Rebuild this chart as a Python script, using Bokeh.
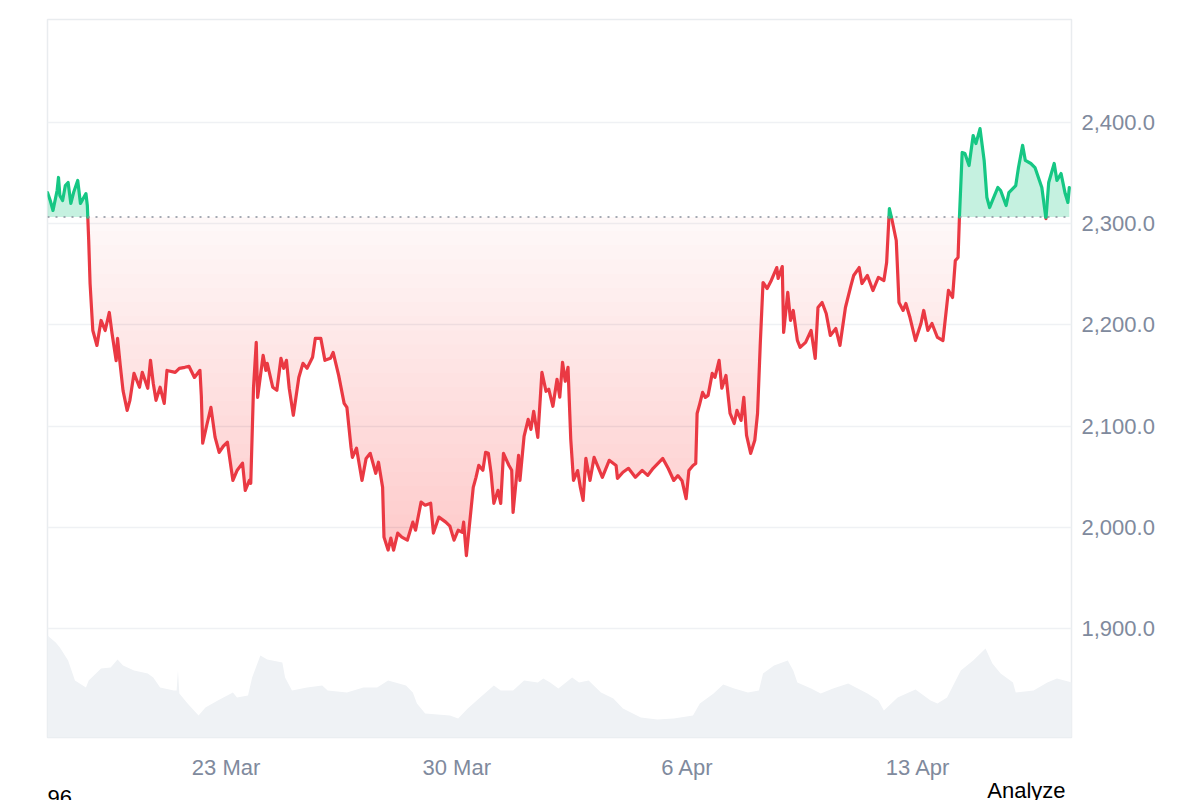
import numpy as np
from datetime import datetime
from bokeh.plotting import figure
from bokeh.layouts import column
from bokeh.models import (Range1d, FixedTicker, NumeralTickFormatter,
                          DatetimeTickFormatter, Span, Label)
from bokeh.embed import file_html
from bokeh.resources import INLINE

# ---------------- data ----------------
START = datetime(2025, 3, 17, 14, 0)          # first sample
END_HOURS = 745.6                             # right edge of the x range, hours after START

price_hours = [0, 2, 4, 7, 8, 9, 11, 13, 15, 17, 19, 22, 24, 26, 28, 29, 30, 31, 33, 36,
               39, 42, 45, 47, 50, 51, 53, 55, 58, 60, 63, 67, 69, 73, 75, 77, 79, 82, 85, 87,
               93, 96, 100, 103, 107, 111, 112, 113, 116, 119, 122, 125, 128, 131, 135, 138, 142, 144, 147, 148,
               150, 152, 153, 157, 159, 160, 164, 167, 170, 172, 174, 176, 179, 183, 186, 189, 193, 195, 199, 202,
               206, 208, 212, 216, 218, 221, 222, 225, 229, 232, 235, 239, 241, 244, 245, 248, 250, 252, 255, 258,
               262, 266, 268, 272, 275, 279, 281, 285, 290, 293, 296, 299, 302, 303, 305, 310, 312, 314, 317, 319,
               321, 323, 325, 328, 330, 332, 336, 338, 339, 343, 344, 347, 350, 352, 354, 357, 360, 363, 365, 368,
               371, 373, 375, 377, 379, 381, 383, 386, 388, 390, 392, 395, 398, 404, 409, 414, 415, 419, 423, 428,
               433, 437, 441, 448, 452, 456, 459, 462, 465, 467, 470, 472, 473, 475, 477, 479, 481, 484, 486, 489,
               491, 494, 497, 500, 502, 505, 507, 509, 512, 515, 517, 519, 521, 524, 527, 531, 532, 535, 536, 539,
               541, 543, 546, 548, 552, 556, 559, 561, 564, 567, 570, 574, 577, 581, 585, 587, 591, 593, 597, 601,
               605, 609, 611, 613, 615, 618, 620, 623, 625, 628, 632, 636, 638, 641, 644, 648, 652, 656, 659, 661,
               663, 664, 666, 668, 671, 674, 676, 679, 682, 684, 686, 688, 692, 694, 698, 700, 705, 707, 710, 712,
               716, 719, 724, 727, 729, 733, 735, 738, 741, 743, 744]

prices = [2330.7, 2322.8, 2313.0, 2332.7, 2345.6, 2327.8, 2322.8, 2337.6, 2340.6, 2319.9,
          2330.7, 2342.6, 2319.9, 2324.8, 2329.7, 2317.9, 2283.4, 2240.8, 2194.4, 2179.6,
          2204.3, 2194.4, 2212.2, 2191.4, 2164.6, 2186.6, 2159.7, 2135.0, 2115.5, 2125.4,
          2152.1, 2138.3, 2153.1, 2137.3, 2165.0, 2142.3, 2125.4, 2138.3, 2122.4, 2154.9,
          2153.0, 2156.9, 2158.0, 2159.0, 2148.0, 2155.0, 2130.0, 2083.0, 2101.0, 2118.4,
          2089.0, 2073.9, 2080.0, 2084.0, 2046.2, 2056.0, 2063.3, 2036.3, 2046.2, 2043.4,
          2138.0, 2182.6, 2128.3, 2169.8, 2155.0, 2161.9, 2138.3, 2135.3, 2166.9, 2157.0,
          2164.9, 2137.3, 2110.6, 2148.0, 2161.9, 2157.0, 2167.9, 2186.6, 2186.6, 2164.9,
          2166.9, 2172.8, 2150.0, 2122.4, 2118.4, 2079.0, 2069.0, 2078.0, 2046.2, 2068.0,
          2073.0, 2053.3, 2064.2, 2039.5, 1990.2, 1977.4, 1989.2, 1977.4, 1994.2, 1990.2,
          1987.2, 2005.0, 1997.1, 2024.8, 2021.7, 2023.7, 1994.2, 2010.0, 2005.0, 2001.0,
          1987.2, 1997.0, 1995.0, 2005.0, 1972.0, 2039.4, 2049.3, 2061.1, 2056.2, 2074.0,
          2073.0, 2053.3, 2023.6, 2036.4, 2023.6, 2073.0, 2061.0, 2056.2, 2014.7, 2071.0,
          2046.2, 2089.8, 2106.6, 2096.7, 2114.5, 2088.8, 2153.0, 2134.3, 2136.3, 2119.5,
          2146.2, 2128.5, 2163.0, 2144.2, 2158.0, 2086.9, 2046.2, 2056.0, 2039.3, 2026.5,
          2068.0, 2046.2, 2069.0, 2049.3, 2066.1, 2061.0, 2048.3, 2054.3, 2058.2, 2049.3,
          2056.2, 2051.2, 2058.2, 2068.0, 2058.0, 2046.2, 2051.0, 2046.0, 2028.3, 2056.0,
          2061.0, 2063.0, 2112.4, 2122.4, 2133.2, 2128.3, 2130.3, 2152.0, 2148.0, 2164.9,
          2137.3, 2150.0, 2112.4, 2102.5, 2115.4, 2105.5, 2128.3, 2090.7, 2073.0, 2085.9,
          2112.4, 2181.6, 2241.8, 2235.9, 2243.8, 2256.6, 2245.8, 2257.6, 2192.5, 2232.0,
          2204.3, 2214.2, 2184.6, 2177.7, 2182.6, 2194.4, 2166.8, 2217.1, 2222.0, 2211.2,
          2189.5, 2196.3, 2179.6, 2217.1, 2238.8, 2248.7, 2256.6, 2240.8, 2248.7, 2233.9,
          2246.8, 2243.8, 2261.6, 2314.9, 2303.1, 2283.3, 2222.0, 2214.2, 2221.1, 2207.2,
          2184.5, 2201.3, 2214.2, 2194.4, 2201.3, 2187.5, 2184.5, 2234.0, 2227.0, 2263.5,
          2266.5, 2306.0, 2370.3, 2369.3, 2357.4, 2387.0, 2379.1, 2393.9, 2362.4, 2325.8,
          2315.9, 2322.8, 2335.7, 2332.7, 2317.9, 2330.7, 2337.6, 2355.4, 2377.3, 2362.4,
          2359.4, 2355.4, 2335.7, 2305.0, 2340.6, 2359.4, 2342.6, 2349.5, 2329.7, 2320.9,
          2335.7]

vol_hours = [0, 6, 9, 15, 20, 28, 30, 39, 46, 51, 55, 63, 73, 77, 82, 92, 94, 95, 96, 102,
             110, 115, 124, 135, 138, 146, 149, 155, 160, 171, 173, 178, 189, 200, 204, 218, 230, 240, 248, 261,
             266, 269, 275, 293, 299, 306, 315, 325, 330, 339, 347, 357, 361, 366, 372, 382, 387, 394, 403, 412,
             419, 432, 444, 456, 470, 475, 485, 492, 500, 510, 518, 521, 529, 539, 543, 546, 556, 563, 572, 583,
             597, 605, 609, 619, 632, 643, 648, 655, 665, 674, 683, 688, 694, 703, 705, 718, 728, 735, 746]
volumes = [10.2, 9.5, 9.0, 7.7, 5.7, 5.0, 5.7, 6.9, 7.0, 7.8, 7.2, 6.7, 6.4, 6.0, 5.0, 4.7, 4.7, 6.7, 4.4, 3.4,
           2.2, 3.0, 3.7, 4.5, 4.0, 4.2, 6.0, 8.2, 7.8, 7.5, 6.0, 4.7, 5.0, 5.2, 4.7, 4.5, 5.0, 5.0, 5.7, 5.2,
           4.5, 3.4, 2.4, 2.2, 1.9, 2.9, 4.0, 5.2, 4.7, 4.7, 5.7, 5.5, 5.9, 5.5, 4.9, 6.0, 5.5, 5.7, 4.5, 3.9,
           2.9, 2.0, 1.8, 1.9, 2.2, 3.4, 4.4, 5.3, 4.9, 4.5, 4.7, 6.4, 7.2, 7.7, 6.7, 5.5, 4.9, 4.4, 4.9, 5.4,
           4.4, 3.7, 2.7, 4.0, 4.8, 3.7, 3.4, 4.0, 6.7, 7.7, 8.9, 7.4, 6.4, 5.5, 4.5, 4.7, 5.5, 5.9, 5.5]

baseline = 2306.5                      # reference (opening) price, dotted line
y_ticks = [1900, 2000, 2100, 2200, 2300, 2400]
tick_dates = [datetime(2025, 3, 23), datetime(2025, 3, 30), datetime(2025, 4, 6), datetime(2025, 4, 13)]
corner_left = "96"
corner_right = "Analyze"

assert len(price_hours) == len(prices)
assert len(vol_hours) == len(volumes)

# ---------------- styling ----------------
RED = "#ea3943"
GREEN = "#16c784"
GRAY_TXT = "#808a9d"
FONT = "Liberation Sans"
HOUR = 3600000.0
EPOCH = datetime(1970, 1, 1)


def ms(d):
    return (d - EPOCH).total_seconds() * 1000.0


t0 = ms(START)
px = t0 + np.array(price_hours, dtype=float) * HOUR
py = np.array(prices, dtype=float)
vx = t0 + np.array(vol_hours, dtype=float) * HOUR
vy = np.array(volumes, dtype=float)


def augment(xs, ys, level):
    """insert the points where the polyline crosses `level` (for clean fills)"""
    ox, oy = [xs[0]], [ys[0]]
    for i in range(1, len(xs)):
        a, b = ys[i - 1] - level, ys[i] - level
        if a * b < 0:
            f = a / (a - b)
            ox.append(xs[i - 1] + f * (xs[i] - xs[i - 1]))
            oy.append(level)
        ox.append(xs[i])
        oy.append(ys[i])
    return np.array(ox), np.array(oy)


def runs_by_side(xs, ys, level):
    runs = []
    side = ys[0] >= level
    cx, cy = [xs[0]], [ys[0]]
    for i in range(1, len(xs)):
        s = ys[i] >= level
        if s != side:
            f = (level - ys[i - 1]) / (ys[i] - ys[i - 1])
            xc = xs[i - 1] + f * (xs[i] - xs[i - 1])
            cx.append(xc)
            cy.append(level)
            runs.append((side, cx, cy))
            side = s
            cx, cy = [xc], [level]
        cx.append(xs[i])
        cy.append(ys[i])
    runs.append((side, cx, cy))
    return runs


p = figure(width=1200, height=782, x_axis_type="datetime", y_axis_location="right",
           x_range=Range1d(t0, t0 + END_HOURS * HOUR), y_range=Range1d(1792.2, 2501.7),
           output_backend="svg", toolbar_location=None,
           min_border_left=47, min_border_right=129, min_border_top=19, min_border_bottom=45,
           background_fill_color="white", border_fill_color="white")
p.outline_line_color = "#e9ecef"
p.outline_line_width = 1.5

p.extra_y_ranges = {"vol": Range1d(0, 71.8)}

# volume
p.varea(x=vx, y1=0, y2=vy, y_range_name="vol", fill_color="#eff2f5", fill_alpha=1.0)

# red gradient below the baseline (stacked translucent layers)
n_layers = 24
step = 14.0
a0, a = 0.035, 0.0135
for k in range(n_layers):
    L = baseline - k * step
    xa, ya = augment(px, py, L)
    p.varea(x=xa, y1=np.minimum(ya, L), y2=np.full_like(ya, L),
            fill_color=RED, fill_alpha=a0 if k == 0 else a)

# green fill above the baseline
xa, ya = augment(px, py, baseline)
p.varea(x=xa, y1=np.full_like(ya, baseline), y2=np.maximum(ya, baseline),
        fill_color=GREEN, fill_alpha=0.25)

# dotted baseline
p.add_layout(Span(location=baseline, dimension="width", line_color="#878e9b",
                  line_width=1.6, line_dash="2 6"))

# price line, coloured by side of the baseline
runs = runs_by_side(px, py, baseline)
gx = [r[1] for r in runs if r[0]]
gy = [r[2] for r in runs if r[0]]
rx = [r[1] for r in runs if not r[0]]
ry = [r[2] for r in runs if not r[0]]
p.multi_line(xs=rx, ys=ry, line_color=RED, line_width=3.2, line_join="round", line_cap="round")
p.multi_line(xs=gx, ys=gy, line_color=GREEN, line_width=3.2, line_join="round", line_cap="round")

# grid
p.xgrid.visible = False
p.ygrid.ticker = FixedTicker(ticks=y_ticks)
p.ygrid.grid_line_color = "#eff1f4"
p.ygrid.grid_line_width = 1.5

# y axis (right)
p.yaxis.ticker = FixedTicker(ticks=y_ticks)
p.yaxis.formatter = NumeralTickFormatter(format="0,0.0")
# x axis
p.xaxis.ticker = FixedTicker(ticks=[ms(d) for d in tick_dates])
p.xaxis.formatter = DatetimeTickFormatter(days="%-d %b", months="%-d %b", hours="%-d %b",
                                          hourmin="%-d %b", years="%-d %b")
for ax in (p.xaxis[0], p.yaxis[0]):
    ax.axis_line_color = None
    ax.major_tick_line_color = None
    ax.minor_tick_line_color = None
    ax.major_tick_out = 0
    ax.major_tick_in = 0
    ax.major_label_text_color = GRAY_TXT
    ax.major_label_text_font = FONT
    ax.major_label_text_font_size = "22px"
p.yaxis.major_label_standoff = 10
p.xaxis.major_label_standoff = 17

# strip below the chart holding the two corner texts (its frame lines up with the chart frame)
strip = figure(width=1200, height=18, x_range=Range1d(47, 1071), y_range=Range1d(0, 18),
               x_axis_location=None, y_axis_location=None, output_backend="svg",
               toolbar_location=None, min_border=0, min_border_left=0, min_border_right=0,
               min_border_top=0, min_border_bottom=0,
               background_fill_color="white", border_fill_color="white")
strip.outline_line_color = None
strip.grid.visible = False
strip.add_layout(Label(x=1065, y=10, text=corner_right, text_align="right",
                       text_baseline="alphabetic", text_color="black",
                       text_font=FONT, text_font_size="22px"))
strip.add_layout(Label(x=47, y=3.5, text=corner_left, text_align="left",
                       text_baseline="alphabetic", text_color="black",
                       text_font=FONT, text_font_size="22px"))

layout = column(p, strip, spacing=0)
open("out.html", "w").write(file_html(layout, INLINE))
